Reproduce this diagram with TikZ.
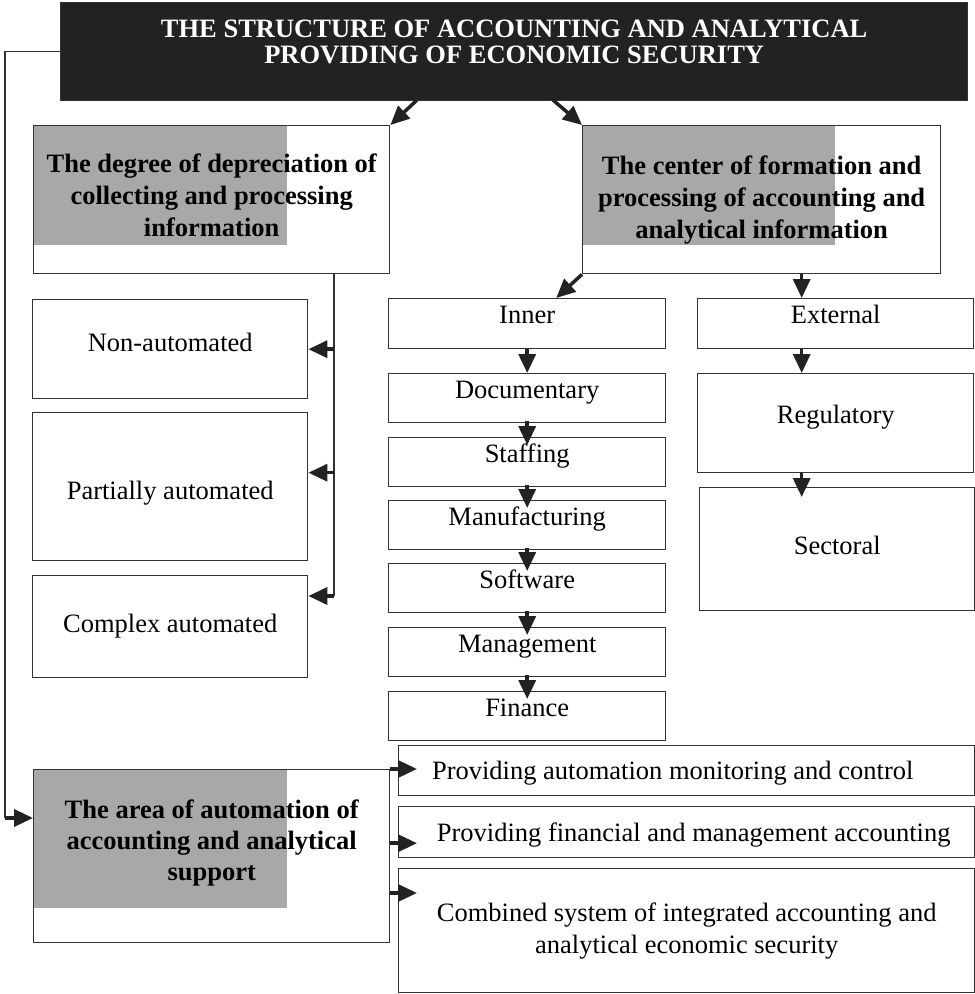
\documentclass[tikz,border=0pt]{standalone}
\usepackage{fontspec}
\setmainfont{Liberation Serif}
\usetikzlibrary{arrows.meta, backgrounds}

\definecolor{ink}{HTML}{222222}
\definecolor{edge}{HTML}{333333}
\definecolor{greyfill}{HTML}{A8A8A8}

\tikzset{
  box/.style={draw=edge, line width=1.4pt, anchor=north west, inner sep=2pt, align=center, font=\fontsize{26.5}{32}\selectfont},
  cell/.style={box, text height=18pt, text depth=#1},
  cell/.default=18pt,
  head/.style={draw=edge, line width=1.4pt, anchor=north west, inner sep=0pt},
  headtext/.style={align=center, font=\bfseries\fontsize{26.5}{32}\selectfont},
  arr/.style={draw=ink, line width=3.5pt, -{Triangle[length=19pt,width=17pt]}},
  link/.style={draw=edge, line width=1.4pt}
}

\begin{document}
\begin{tikzpicture}[x=1pt, y=-1pt]
  \useasboundingbox (0,0) rectangle (975,994);

  % title
  \node[head, fill=ink, minimum width=907pt, minimum height=98pt] (title) at (60,2) {};
  \node[headtext, text=white, font=\bfseries\fontsize{26.5}{26}\selectfont] (titletxt) at ([yshift=9.5pt]title.center) {THE STRUCTURE OF ACCOUNTING AND ANALYTICAL\\PROVIDING OF ECONOMIC SECURITY};

  % the three headings
  \node[head, minimum width=356pt, minimum height=148pt] (degree) at (33,125) {};
  \node[head, minimum width=358pt, minimum height=148pt] (centre) at (582,125) {};
  \node[head, minimum width=356pt, minimum height=173pt] (area) at (33,769) {};
  \begin{scope}[on background layer]
    \fill[greyfill] (degree.north west) rectangle ++(254,120);
    \fill[greyfill] (centre.north west) rectangle ++(253,120);
    \fill[greyfill] (area.north west) rectangle ++(254,139);
  \end{scope}
  \node[headtext] (degreetxt) at ([yshift=4pt]degree.center) {The degree of depreciation of\\collecting and processing\\information};
  \node[headtext] (centretxt) at (centre.center) {The center of formation and\\processing of accounting and\\analytical information};
  \node[headtext, font=\bfseries\fontsize{26.5}{31}\selectfont] (areatxt) at ([yshift=13.5pt]area.center) {The area of automation of\\accounting and analytical\\support};

  % degree of automation
  \node[cell=13pt, minimum width=275pt, minimum height=99pt] (nonauto) at (32,299) {Non-automated};
  \node[cell=0pt, text height=26pt, minimum width=275pt, minimum height=148pt] (partial) at (32,412) {Partially automated};
  \node[cell=6pt, minimum width=275pt, minimum height=102pt] (complex) at (32,575) {Complex automated};

  % inner sources
  \node[cell, minimum width=277pt, minimum height=50pt] (inner) at (388,298) {Inner};
  \node[cell, minimum width=277pt, minimum height=49pt] (docu) at (388,373) {Documentary};
  \node[cell, minimum width=277pt, minimum height=49pt] (staff) at (388,437) {Staffing};
  \node[cell, minimum width=277pt, minimum height=49pt] (manuf) at (388,500) {Manufacturing};
  \node[cell, minimum width=277pt, minimum height=49pt] (soft) at (388,563) {Software};
  \node[cell, minimum width=277pt, minimum height=49pt] (manage) at (388,627) {Management};
  \node[cell, minimum width=277pt, minimum height=49pt] (fin) at (388,691) {Finance};

  % external sources
  \node[cell, minimum width=276pt, minimum height=50pt] (external) at (697,298) {External};
  \node[cell, minimum width=276pt, minimum height=99pt] (regul) at (697,373) {Regulatory};
  \node[cell=8pt, minimum width=275pt, minimum height=123pt] (sector) at (699,487) {Sectoral};

  % automation areas
  \node[cell=0pt, minimum width=576pt, minimum height=50pt] (p1) at (398,745) {Providing automation monitoring and control\hspace*{28pt}};
  \node[cell=0pt, minimum width=576pt, minimum height=51pt] (p2) at (398,806) {\hspace*{14pt}Providing financial and management accounting};
  \node[box, minimum width=576pt, minimum height=124pt] (p3) at (398,868) {Combined system of integrated accounting and\\analytical economic security};

  % from the title
  \coordinate (tl) at (417,100);
  \coordinate (tr) at (553,100);
  \draw[arr] (tl) -- (degree.north east);
  \draw[arr] (tr) -- (centre.north west);

  \coordinate (lb) at (5,818);
  \draw[link] (title.west) -| (lb);
  \draw[arr] (lb) -- (lb -| area.west);

  % degree branches
  \coordinate (dv) at (334,596);
  \coordinate (pa) at ([yshift=14pt]partial.east);
  \draw[link] (degree.south -| dv) -- (dv);
  \draw[arr] (dv |- nonauto.east) -- (nonauto.east);
  \draw[arr] (dv |- pa) -- (pa);
  \draw[arr] (dv) -- (dv -| complex.east);

  % centre branches
  \draw[arr] (centre.south west) -- ([xshift=29pt]inner.north);
  \draw[arr] (inner.south) -- (docu.north);
  \draw[arr, shorten <=-2pt, shorten >=-8pt] (docu.south) -- (staff.north);
  \draw[arr, shorten <=-2pt, shorten >=-8pt] (staff.south) -- (manuf.north);
  \draw[arr, shorten <=-2pt, shorten >=-8pt] (manuf.south) -- (soft.north);
  \draw[arr, shorten <=-2pt, shorten >=-8pt] (soft.south) -- (manage.north);
  \draw[arr, shorten <=-2pt, shorten >=-8pt] (manage.south) -- (fin.north);

  \coordinate (ex) at ([xshift=-34pt]external.north);
  \draw[arr] (ex |- centre.south) -- (ex);
  \draw[arr] (ex |- external.south) -- (ex |- regul.north);
  \draw[arr, shorten >=-10pt] (ex |- regul.south) -- (ex |- sector.north);

  % area branches
  \coordinate (a1) at ([xshift=19pt]p1.west);
  \coordinate (a2) at ([xshift=19pt,yshift=-11pt]p2.west);
  \coordinate (a3) at ([xshift=19pt,yshift=-25pt]p3.north west);
  \draw[arr] (area.north east) -- (area.north east -| a1);
  \draw[arr] (a2 -| area.east) -- (a2);
  \draw[arr] (a3 -| area.east) -- (a3);
\end{tikzpicture}
\end{document}
